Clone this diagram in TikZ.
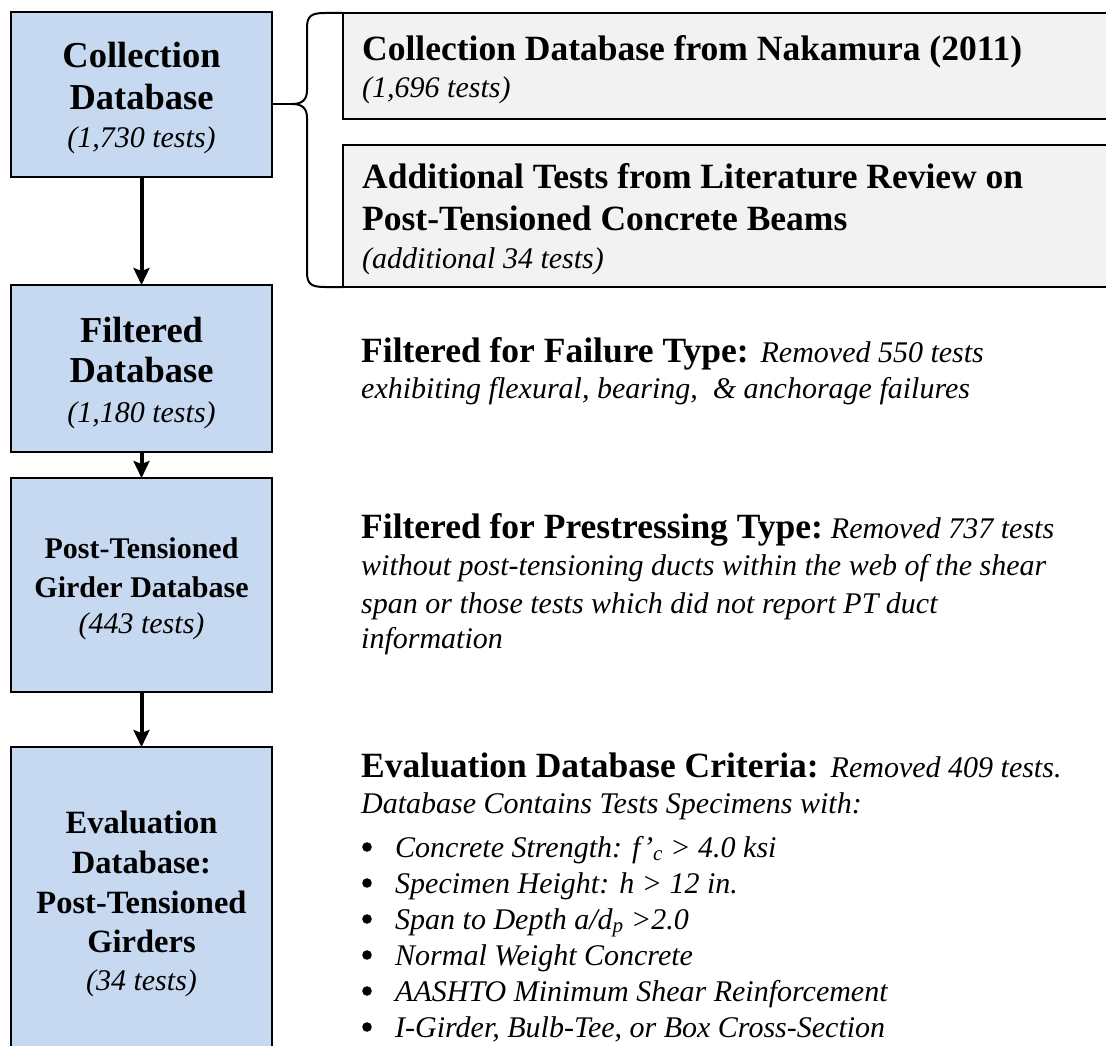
\documentclass[tikz,border=0pt]{standalone}
\usepackage{fontspec}
\setmainfont{Liberation Serif}
\usetikzlibrary{arrows.meta}
\definecolor{boxblue}{HTML}{C6D9F1}
\definecolor{boxgray}{HTML}{F2F2F2}
\newcommand{\hdtxt}[1]{{\fontsize{35.5}{40}\selectfont\bfseries #1}}
\newcommand{\ittxt}[1]{{\fontsize{30}{36}\selectfont\itshape #1}}
\begin{document}
\begin{tikzpicture}[x=1pt,y=-1pt,
  bluebox/.style={draw=black,fill=boxblue,line width=2pt,minimum width=261pt,inner sep=0pt,outer sep=0pt},
  graybox/.style={draw=black,fill=boxgray,line width=2pt,minimum width=777pt,inner sep=0pt,outer sep=0pt},
  flowarrow/.style={line width=4pt,-{Stealth[length=17pt,width=16pt,inset=3pt]}},
  bracestyle/.style={line width=2pt},
  bulletdot/.style={fill=black},
  tb/.style={inner sep=0pt,anchor=base,font=\fontsize{36.5}{40}\selectfont\bfseries},
  tbs/.style={inner sep=0pt,anchor=base,font=\fontsize{30}{36}\selectfont\bfseries},
  tbm/.style={inner sep=0pt,anchor=base,font=\fontsize{32.5}{38}\selectfont\bfseries},
  ti/.style={inner sep=0pt,anchor=base,font=\fontsize{30}{36}\selectfont\itshape},
  tl/.style={inner sep=0pt,anchor=base west}
]
\useasboundingbox (0,0) rectangle (1106,1046);
\clip (0,0) rectangle (1106,1046);

% left boxes
\node[bluebox,minimum height=165pt] (b1) at (141.5,94.5) {};
\node[bluebox,minimum height=167pt] (b2) at (141.5,368.5) {};
\node[bluebox,minimum height=214pt] (b3) at (141.5,585) {};
\node[bluebox,minimum height=313pt] (b4) at (141.5,903.5) {};

% left box texts
\node[tb] (b1a) at (141.5,68) {Collection};
\node[tb] (b1b) at (141.5,110) {Database};
\node[ti] (b1c) at (141.5,148) {(1,730 tests)};

\node[tb] (b2a) at (141.5,342) {Filtered};
\node[tb] (b2b) at (141.5,382) {Database};
\node[ti] (b2c) at (141.5,422) {(1,180 tests)};

\node[tbs] (b3a) at (141.5,558) {Post-Tensioned};
\node[tbs] (b3b) at (141.5,597) {Girder Database};
\node[ti] (b3c) at (141.5,633) {(443 tests)};

\node[tbm] (b4a) at (141.5,833) {Evaluation};
\node[tbm] (b4b) at (141.5,873) {Database:};
\node[tbm] (b4c) at (141.5,913) {Post-Tensioned};
\node[tbm] (b4d) at (141.5,952) {Girders};
\node[ti] (b4e) at (141.5,990) {(34 tests)};

% arrows
\draw[flowarrow] (b1.south) -- (b2.north);
\draw[flowarrow] (b2.south) -- (b3.north);
\draw[flowarrow] (b3.south) -- (b4.north);

% gray boxes
\node[graybox,minimum height=106pt] (g1) at (731.5,66) {};
\node[graybox,minimum height=142pt] (g2) at (731.5,216) {};

\node[tl] (g1a) at (362,61) {\hdtxt{Collection Database from Nakamura (2011)}};
\node[tl] (g1b) at (362,98) {\ittxt{(1,696 tests)}};
\node[tl] (g2a) at (362,188) {\hdtxt{Additional Tests from Literature Review on}};
\node[tl] (g2b) at (362,230) {\hdtxt{Post-Tensioned Concrete Beams}};
\node[tl] (g2c) at (362,268) {\ittxt{(additional 34 tests)}};

% brace
\coordinate (tip) at (292,104);
\draw[bracestyle] (g1.north west) -- (325,13) .. controls (311,13) and (307,16) .. (307,28)
  -- (307,90) .. controls (307,100) and (302,104) .. (tip)
  .. controls (302,104) and (307,108) .. (307,118)
  -- (307,272) .. controls (307,284) and (311,287) .. (325,287) -- (g2.south west);
\draw[bracestyle] (tip) -- (b1.east |- tip);

% middle texts
\node[tl] (m1a) at (361,362) {\hdtxt{Filtered for Failure Type:}\hspace{12pt}\ittxt{Removed 550 tests}};
\node[tl] (m1b) at (361,398) {\ittxt{exhibiting flexural, bearing, \ \& anchorage failures}};

\node[tl] (m2a) at (361,538) {\hdtxt{Filtered for Prestressing Type:}\hspace{8pt}\ittxt{Removed 737 tests}};
\node[tl] (m2b) at (361,575) {\ittxt{without post-tensioning ducts within the web of the shear}};
\node[tl] (m2c) at (361,613) {\ittxt{span or those tests which did not report PT duct}};
\node[tl] (m2d) at (361,648) {\ittxt{information}};

\node[tl] (m3a) at (361,777) {\hdtxt{Evaluation Database Criteria:}\hspace{12pt}\ittxt{Removed 409 tests.}};
\node[tl] (m3b) at (361,813) {\ittxt{Database Contains Tests Specimens with:}};

\node[tl] (c1) at (395,857) {\ittxt{Concrete Strength: f’\textsubscript{c} > 4.0 ksi}};
\node[tl] (c2) at (395,893) {\ittxt{Specimen Height: h > 12 in.}};
\node[tl] (c3) at (395,929) {\ittxt{Span to Depth a/d\textsubscript{p} >2.0}};
\node[tl] (c4) at (395,965) {\ittxt{Normal Weight Concrete}};
\node[tl] (c5) at (395,1001) {\ittxt{AASHTO Minimum Shear Reinforcement}};
\node[tl] (c6) at (395,1037) {\ittxt{I-Girder, Bulb-Tee, or Box Cross-Section}};

\foreach \yy in {857,893,929,965,1001,1037}
  \fill[bulletdot] (367,\yy-10) circle (4.8pt);
\end{tikzpicture}
\end{document}
